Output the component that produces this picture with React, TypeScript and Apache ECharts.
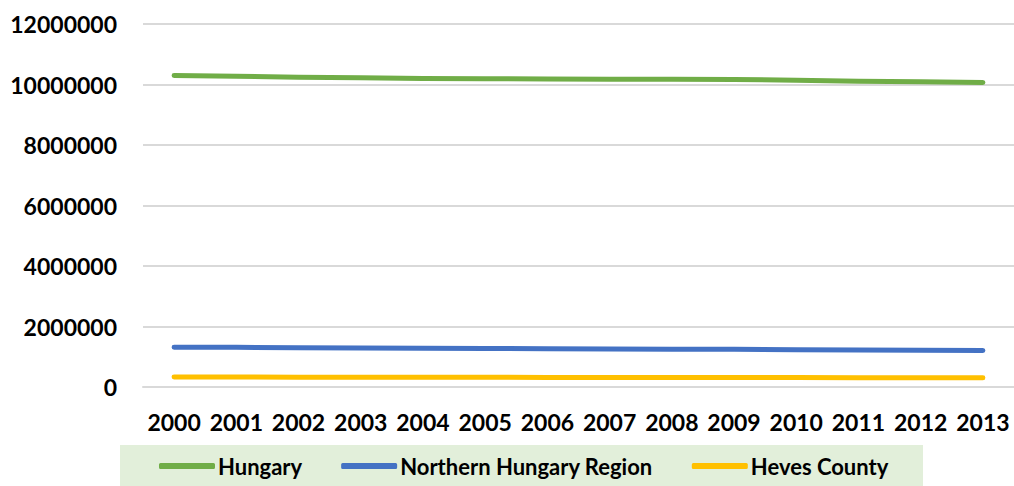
import React, { useEffect, useRef } from "react";
import * as echarts from "echarts";

const years = ["2000", "2001", "2002", "2003", "2004", "2005", "2006", "2007", "2008", "2009", "2010", "2011", "2012", "2013"];
const hungary = [10300000, 10270000, 10240000, 10220000, 10200000, 10190000, 10180000, 10175000, 10170000, 10165000, 10140000, 10110000, 10090000, 10070000];
const northernHungary = [1316000, 1310000, 1300000, 1290000, 1280000, 1275000, 1265000, 1260000, 1250000, 1245000, 1235000, 1225000, 1215000, 1206000];
const heves = [330000, 328000, 326000, 324000, 322000, 320000, 318000, 316000, 314000, 312000, 310000, 307000, 304000, 302000];
const seriesNames = ["Hungary", "Northern Hungary Region", "Heves County"];
const colors = ["#70AD47", "#4472C4", "#FFC000"];

const FONT = "Lato, 'Open Sans', sans-serif";

export default function App() {
  const ref = useRef<HTMLDivElement>(null);
  useEffect(() => {
    if (!ref.current) return;
    const chart = echarts.init(ref.current, null, { renderer: "svg" });
    const data = [hungary, northernHungary, heves];
    chart.setOption({
      animation: false,
      backgroundColor: "#ffffff",
      grid: { left: 143, right: 0, top: 24, bottom: 99, containLabel: false },
      graphic: [
        {
          type: "rect",
          shape: { x: 120, y: 445, width: 803, height: 45 },
          style: { fill: "#E2EFDA" },
          z: -1,
        },
      ],
      legend: {
        left: 159,
        top: 455,
        padding: 0,
        itemGap: 39,
        itemWidth: 56,
        itemHeight: 6,
        icon: "roundRect",
        textStyle: { fontFamily: FONT, fontWeight: "bold", fontSize: 22, color: "#000", padding: [0, 0, 0, -2] },
        data: seriesNames,
      },
      xAxis: {
        type: "category",
        data: years,
        boundaryGap: true,
        axisLine: { show: true, lineStyle: { color: "#D9D9D9", width: 2 } },
        axisTick: { show: false },
        axisLabel: { interval: 0, fontFamily: FONT, fontWeight: "bold", fontSize: 23, color: "#000", margin: 23 },
      },
      yAxis: {
        type: "value",
        min: 0,
        max: 12000000,
        interval: 2000000,
        axisLine: { show: false },
        axisTick: { show: false },
        splitLine: { lineStyle: { color: "#D9D9D9", width: 2 } },
        axisLabel: {
          fontFamily: FONT,
          fontWeight: "bold",
          fontSize: 23,
          color: "#000",
          margin: 26,
          formatter: (v: number) => String(v),
        },
      },
      series: seriesNames.map((name, i) => ({
        name,
        type: "line",
        data: data[i],
        symbol: "none",
        smooth: false,
        itemStyle: { color: colors[i] },
        lineStyle: { color: colors[i], width: 5, cap: "round", join: "round" },
      })),
    });
    return () => chart.dispose();
  }, []);
  return (
    <div
      ref={ref}
      style={{ position: "fixed", left: 0, top: 0, width: 1014, height: 486 }}
    />
  );
}
